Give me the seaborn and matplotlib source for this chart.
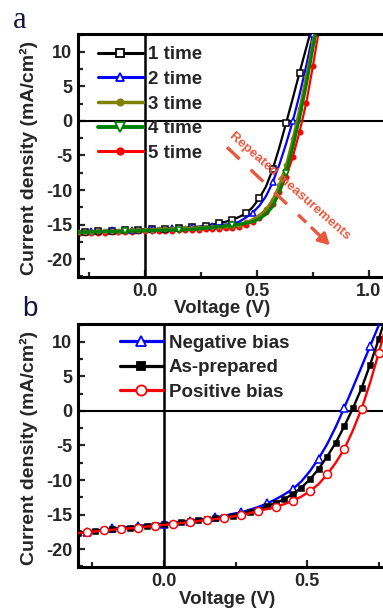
import matplotlib
matplotlib.use("Agg")
import matplotlib.pyplot as plt
import seaborn as sns
import pandas as pd
from matplotlib.lines import Line2D
from matplotlib.ticker import AutoMinorLocator, FormatStrFormatter

sns.set_theme(style="ticks")
plt.rcParams["font.family"] = ["Liberation Sans", "DejaVu Sans"]
plt.rcParams["font.weight"] = "bold"
plt.rcParams["axes.unicode_minus"] = False

# ---------------- data ----------------
voltage = [-0.30, -0.27, -0.24, -0.21, -0.18, -0.15, -0.12, -0.09, -0.06, -0.03,
           0.00, 0.03, 0.06, 0.09, 0.12, 0.15, 0.18, 0.21, 0.24, 0.27,
           0.30, 0.33, 0.36, 0.39, 0.42, 0.45, 0.48, 0.51, 0.54, 0.57,
           0.60, 0.63, 0.66, 0.69, 0.72, 0.75, 0.78]

# panel a : repeated measurements
j_time1 = [-16.1, -16.05, -16.0, -16.0, -15.95, -15.9, -15.9, -15.85, -15.8, -15.8,
           -15.75, -15.7, -15.7, -15.65, -15.6, -15.55, -15.5, -15.4, -15.3, -15.2,
           -15.0, -14.8, -14.6, -14.3, -13.9, -13.4, -12.5, -11.2, -9.5, -7.0,
           -3.8, -0.3, 3.3, 7.0, 10.6, 14.2, 17.8]
j_time2 = [-16.05, -16.0, -15.95, -15.9, -15.9, -15.85, -15.8, -15.8, -15.75, -15.7,
           -15.7, -15.65, -15.6, -15.6, -15.55, -15.5, -15.45, -15.4, -15.35, -15.3,
           -15.2, -15.1, -15.0, -14.9, -14.6, -14.0, -13.3, -12.3, -10.9, -8.9,
           -6.3, -3.3, 0.0, 3.8, 8.0, 12.6, 17.2]
j_time3 = [-16.15, -16.1, -16.05, -16.0, -16.0, -15.95, -15.9, -15.9, -15.85, -15.8,
           -15.8, -15.75, -15.7, -15.7, -15.65, -15.6, -15.55, -15.5, -15.45, -15.4,
           -15.35, -15.3, -15.25, -15.2, -15.0, -14.7, -14.3, -13.7, -12.8, -11.4,
           -9.3, -6.4, -2.6, 1.7, 6.4, 11.5, 16.8]
j_time4 = [-16.1, -16.1, -16.05, -16.05, -16.0, -16.0, -16.0, -16.0, -15.95, -15.9,
           -15.9, -15.85, -15.85, -15.8, -15.8, -15.8, -15.75, -15.7, -15.6, -15.5,
           -15.4, -15.3, -15.2, -15.1, -14.95, -14.8, -14.6, -14.2, -13.5, -12.4,
           -10.3, -7.5, -3.8, 0.4, 5.2, 10.6, 16.2]
j_time5 = [-16.3, -16.25, -16.25, -16.2, -16.2, -16.15, -16.1, -16.1, -16.05, -16.0,
           -16.0, -15.95, -15.95, -15.9, -15.9, -15.85, -15.8, -15.8, -15.75, -15.7,
           -15.65, -15.6, -15.55, -15.5, -15.3, -15.0, -14.6, -14.0, -13.2, -12.0,
           -10.3, -8.1, -5.2, -1.6, 2.6, 8.0, 13.8]

# panel b : bias treatment
j_negative = [-17.6, -17.5, -17.3, -17.2, -17.0, -16.9, -16.8, -16.7, -16.5, -16.4,
              -16.3, -16.2, -16.0, -15.9, -15.7, -15.6, -15.4, -15.2, -14.9, -14.7,
              -14.3, -13.9, -13.4, -12.8, -12.1, -11.3, -10.2, -8.7, -6.9, -4.8,
              -2.3, 0.5, 3.4, 6.4, 9.4, 12.4, 15.4]
j_asprepared = [-17.7, -17.55, -17.4, -17.25, -17.1, -17.0, -16.9, -16.75, -16.6, -16.5,
                -16.4, -16.3, -16.15, -16.0, -15.85, -15.7, -15.55, -15.4, -15.15, -14.9,
                -14.6, -14.3, -13.8, -13.3, -12.8, -12.0, -11.1, -9.9, -8.4, -6.6,
                -4.6, -2.2, 0.4, 3.3, 6.7, 10.4, 14.3]
j_positive = [-17.7, -17.6, -17.45, -17.3, -17.2, -17.1, -17.0, -16.9, -16.75, -16.6,
              -16.5, -16.4, -16.25, -16.1, -15.95, -15.8, -15.65, -15.5, -15.3, -15.1,
              -14.8, -14.5, -14.2, -13.9, -13.5, -13.0, -12.4, -11.6, -10.6, -9.2,
              -7.5, -5.5, -2.8, 0.3, 4.1, 8.4, 13.0]

labels_a = ["1 time", "2 time", "3 time", "4 time", "5 time"]
labels_b = ["Negative bias", "As-prepared", "Positive bias"]
y_ticks = [-20, -15, -10, -5, 0, 5, 10]
x_ticks_a = [0.0, 0.5, 1.0]
x_ticks_b = [0.0, 0.5]
annotation_text = "Repeated measurements"

# ---------------- figure ----------------
W, H = 383, 610
fig = plt.figure(figsize=(W / 100, H / 100), dpi=100)
fig.patch.set_facecolor("white")

def px_axes(left, top, right, bottom):
    return fig.add_axes([left / W, 1 - bottom / H, (right - left) / W, (bottom - top) / H])

ax_a = px_axes(78, 34, 383, 277)
ax_b = px_axes(78, 324, 383, 567)

styles_a = [
    dict(color="#000000", marker="s", mfc="white", mec="#000000", ms=4.2, markevery=(1, 2), z=3),
    dict(color="#0000ff", marker="^", mfc="white", mec="#0000ff", ms=4.6, markevery=(2, 3), z=4),
    dict(color="#808000", marker="o", mfc="#808000", mec="#808000", ms=3.0, markevery=1, z=5),
    dict(color="#008000", marker="v", mfc="white", mec="#008000", ms=5.0, markevery=(7, 8), z=6),
    dict(color="#ff0000", marker="o", mfc="#ff0000", mec="#ff0000", ms=3.2, markevery=1, z=2),
]
series_a = [j_time1, j_time2, j_time3, j_time4, j_time5]

styles_b = [
    dict(color="#0000ff", marker="^", mfc="white", mec="#0000ff", ms=5.5, markevery=(1, 3), z=3),
    dict(color="#000000", marker="s", mfc="#000000", mec="#000000", ms=3.6, markevery=1, z=4),
    dict(color="#ff0000", marker="o", mfc="white", mec="#ff0000", ms=5.8, markevery=(1, 2), z=5),
]
series_b = [j_negative, j_asprepared, j_positive]


def draw(ax, series, styles, lw_list):
    handles = []
    for j, st, lw in zip(series, styles, lw_list):
        df = pd.DataFrame({"V": voltage, "J": j})
        sns.lineplot(data=df, x="V", y="J", ax=ax, color=st["color"], lw=lw,
                     marker=st["marker"], markerfacecolor=st["mfc"],
                     markeredgecolor=st["mec"], markersize=st["ms"],
                     markeredgewidth=1.1, markevery=st["markevery"],
                     estimator=None, sort=False, errorbar=None, zorder=st["z"])
        handles.append(Line2D([], [], color=st["color"], lw=lw + 0.6, marker=st["marker"],
                              markerfacecolor=st["mfc"], markeredgecolor=st["mec"],
                              markersize=st["ms"] + 1.5, markeredgewidth=1.3))
    return handles


h_a = draw(ax_a, series_a, styles_a, [1.6, 1.6, 1.9, 2.2, 1.6])
h_b = draw(ax_b, series_b, styles_b, [1.7, 1.7, 1.7])

for ax, xlim, xt in [(ax_a, (-0.30, 1.063), x_ticks_a), (ax_b, (-0.30, 0.765), x_ticks_b)]:
    ax.set_xlim(*xlim)
    ax.set_ylim(-22.6, 12.6)
    ax.axhline(0, color="black", lw=1.5, zorder=1)
    ax.axvline(0, color="black", lw=1.8, zorder=1)
    ax.set_xticks(xt)
    ax.set_yticks(y_ticks)
    ax.xaxis.set_major_formatter(FormatStrFormatter("%.1f"))
    ax.xaxis.set_minor_locator(AutoMinorLocator(2))
    ax.yaxis.set_minor_locator(AutoMinorLocator(2))
    ax.tick_params(which="both", direction="in", width=1.6, labelsize=13, pad=4,
                   top=False, right=False)
    ax.tick_params(which="major", length=5)
    ax.tick_params(which="minor", length=3.5)
    for lab in ax.get_xticklabels() + ax.get_yticklabels():
        lab.set_fontweight("bold")
    for sp in ["left", "bottom", "top"]:
        ax.spines[sp].set_linewidth(2.2)
        ax.spines[sp].set_color("black")
    ax.spines["right"].set_visible(False)
    ax.set_ylabel("Current density (mA/cm²)", fontsize=14, fontweight="bold")
    ax.set_xlabel("Voltage (V)", fontsize=13.5, fontweight="bold")
    ax.yaxis.set_label_coords(-0.13, 0.49)
    ax.set_facecolor("white")

ax_a.xaxis.set_label_coords(0.472, -0.095)
ax_b.xaxis.set_label_coords(0.489, -0.1)

leg_a = ax_a.legend(h_a, labels_a, loc="upper left", bbox_to_anchor=(0.065, 0.95),
                    frameon=False, fontsize=13.5, handlelength=2.4, handletextpad=0.25,
                    labelspacing=0.4, borderaxespad=0, borderpad=0)
leg_b = ax_b.legend(h_b, labels_b, loc="upper left", bbox_to_anchor=(0.137, 0.957),
                    frameon=False, fontsize=13.5, handlelength=2.3, handletextpad=0.3,
                    labelspacing=0.4, borderaxespad=0, borderpad=0)
for leg in (leg_a, leg_b):
    for t in leg.get_texts():
        t.set_fontweight("bold")

# annotation "Repeated measurements"
ann_color = "#e8583f"
ax_a.plot([0.366, 0.72], [-3.8, -14.7], ls=(0, (5.2, 4.6)), color=ann_color, lw=2.4,
          zorder=7)
ax_a.annotate("", xy=(0.826, -18.0), xytext=(0.745, -15.5),
              arrowprops=dict(arrowstyle="-|>,head_length=0.55,head_width=0.3",
                              color=ann_color, lw=2.4, shrinkA=0, shrinkB=0),
              zorder=7)
ax_a.text(0.647, -9.4, annotation_text, rotation=-41.3, rotation_mode="anchor",
          ha="center", va="center", color=ann_color, fontsize=9.5,
          fontweight="bold", zorder=8)

# panel letters
fig.text(13 / W, 1 - 28 / H, "a", family=["Liberation Serif", "DejaVu Serif"],
         fontsize=22, fontweight="normal", color="#14143c", ha="left", va="baseline")
fig.text(22 / W, 1 - 316 / H, "b", fontsize=20, fontweight="normal",
         color="#14143c", ha="left", va="baseline")

fig.savefig("out.png", dpi=100, facecolor="white")
